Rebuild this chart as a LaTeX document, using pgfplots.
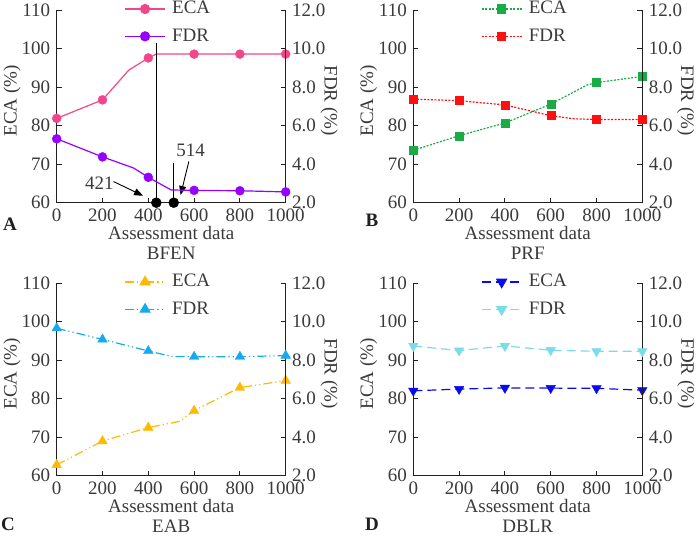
\documentclass[border=0pt]{standalone}
\usepackage{fontspec}
\setmainfont{Liberation Serif}
\usepackage{pgfplots}
\pgfplotsset{compat=1.18}
\usetikzlibrary{arrows.meta}
\definecolor{txt}{HTML}{3A3A3A}
\definecolor{axc}{HTML}{202020}
\definecolor{pinkc}{HTML}{F2468C}
\definecolor{purpc}{HTML}{9600FF}
\definecolor{greenc}{HTML}{1AAA46}
\definecolor{redc}{HTML}{FF1010}
\definecolor{amberc}{HTML}{FFB900}
\definecolor{skyc}{HTML}{14AAF0}
\definecolor{bluec}{HTML}{0A0AF0}
\definecolor{cyanc}{HTML}{78DCEB}
\pgfplotsset{
  legend image code/.code={\draw[mark repeat=2,mark phase=2,#1] plot coordinates {(0bp,0bp) (20bp,0bp) (40bp,0bp)};},
  base/.style={scale only axis, width=229bp, height=192.5bp, xmin=0, xmax=1000,
    tick align=inside, major tick length=5bp,
    axis line style={-, draw=axc, line width=0.9bp},
    every tick/.style={draw=axc, line width=0.9bp},
    tick label style={text=txt, /pgf/number format/assume math mode=true, /pgf/number format/1000 sep={}},
    label style={text=txt}, clip=false},
  leftax/.style={base, ymin=60, ymax=110, ytick={60,70,...,110}, xtick={0,200,...,1000},
    axis x line*=bottom, axis y line*=left, ylabel={ECA (\%)},
    ylabel style={at={(axis description cs:-0.195,0.53)}, anchor=center, rotate=0},
    xlabel style={align=center, inner ysep=0.5bp, yshift=3bp}},
  rightax/.style={base, ymin=2, ymax=12, ytick={2,4,...,12}, xtick=\empty,
    axis y line*=right, axis x line=none,
    yticklabel style={/pgf/number format/.cd, fixed, fixed zerofill, precision=1},
    ylabel={FDR (\%)}, ylabel style={at={(axis description cs:1.19,0.53)}, anchor=center, rotate=180},
    legend style={draw=none, fill=none, at={(axis description cs:0.282,1.068)},
      anchor=north west, text=txt, row sep=8bp, nodes={inner xsep=6.5bp}},
    legend cell align=left},
  sA/.style={line width=1.2bp},
  kA/.style={mark=*, mark size=4.5bp},
  sB/.style={line width=1.2bp, dash pattern=on 2bp off 1.5bp},
  kB/.style={mark=square*, mark size=4bp, mark options={solid}},
  sC/.style={line width=1.2bp, dash pattern=on 9bp off 3bp on 1.2bp off 3bp on 1.2bp off 3bp},
  kC/.style={mark=triangle*, mark size=5.5bp, mark options={solid}},
  sD/.style={line width=1.2bp, dash pattern=on 9bp off 5bp},
  kD/.style={mark=triangle*, mark size=5.5bp, mark options={solid, rotate=180}},
}
\begin{document}
\fontsize{19bp}{21bp}\selectfont
\begin{tikzpicture}
\path[use as bounding box] (0,0) rectangle (700bp,537bp);
% ---------------- A
\begin{axis}[leftax, at={(56.7bp,334.3bp)}, anchor=south west, xlabel={Assessment data\\[-1bp]BFEN}]
\addplot[pinkc, sA, no marks] coordinates {(0,81.9) (200,86.7) (314,94.4) (400,97.6) (435,98.6) (600,98.6) (800,98.6) (1000,98.6)};
\addplot[pinkc, kA, only marks] coordinates {(0,81.9) (200,86.7) (400,97.6) (600,98.6) (800,98.6) (1000,98.6)};
\addplot[black, line width=0.9bp] coordinates {(435,60) (435,101.6)};
\addplot[black, line width=0.9bp] coordinates {(511,60) (511,70.2)};
\addplot[black, only marks, mark=*, mark size=5bp] coordinates {(435,60) (511,60)};
\addplot[black, line width=0.9bp, -{Triangle[length=9bp,width=7bp]}] coordinates {(248,65.5) (377,61.8)};
\addplot[black, line width=0.9bp, -{Triangle[length=9bp,width=7bp]}] coordinates {(577,70.7) (541,62.0)};
\node[text=txt] at (axis cs:186,65.0) {421};
\node[text=txt] at (axis cs:585,73.7) {514};
\end{axis}
\begin{axis}[rightax, at={(56.7bp,334.3bp)}, anchor=south west]
\addlegendimage{pinkc, sA, kA}\addlegendentry{ECA}
\addlegendimage{purpc, sA, kA}\addlegendentry{FDR}
\addplot[purpc, sA, no marks] coordinates {(0,5.32) (200,4.38) (336,3.80) (400,3.32) (500,2.66) (600,2.64) (800,2.62) (1000,2.56)};
\addplot[purpc, kA, only marks] coordinates {(0,5.32) (200,4.38) (400,3.32) (600,2.64) (800,2.62) (1000,2.56)};
\end{axis}
% ---------------- B
\begin{axis}[leftax, at={(413.3bp,334.3bp)}, anchor=south west, xlabel={Assessment data\\[-1bp]PRF}]
\addplot[greenc, sB, no marks] coordinates {(0,73.6) (200,77.4) (400,80.7) (600,85.6) (760,90.6) (800,91.2) (1000,92.8)};
\addplot[greenc, kB, only marks] coordinates {(0,73.6) (200,77.4) (400,80.7) (600,85.6) (800,91.2) (1000,92.8)};
\end{axis}
\begin{axis}[rightax, at={(413.3bp,334.3bp)}, anchor=south west]
\addlegendimage{greenc, sB, kB}\addlegendentry{ECA}
\addlegendimage{redc, sB, kB}\addlegendentry{FDR}
\addplot[redc, sB, no marks] coordinates {(0,7.38) (200,7.30) (400,7.08) (600,6.52) (700,6.36) (800,6.32) (1000,6.32)};
\addplot[redc, kB, only marks] coordinates {(0,7.38) (200,7.30) (400,7.08) (600,6.52) (800,6.32) (1000,6.32)};
\end{axis}
% ---------------- C
\begin{axis}[leftax, at={(56.7bp,61.3bp)}, anchor=south west, xlabel={Assessment data\\[-1bp]EAB}]
\addplot[amberc, sC, no marks] coordinates {(0,62.8) (200,69.0) (400,72.5) (536,74.1) (600,76.9) (800,82.9) (1000,84.7)};
\addplot[amberc, kC, only marks] coordinates {(0,62.8) (200,69.0) (400,72.5) (600,76.9) (800,82.9) (1000,84.7)};
\end{axis}
\begin{axis}[rightax, at={(56.7bp,61.3bp)}, anchor=south west]
\addlegendimage{amberc, sC, kC}\addlegendentry{ECA}
\addlegendimage{skyc, sC, kC}\addlegendentry{FDR}
\addplot[skyc, sC, no marks] coordinates {(0,9.66) (200,9.08) (400,8.48) (500,8.20) (600,8.18) (800,8.18) (1000,8.24)};
\addplot[skyc, kC, only marks] coordinates {(0,9.66) (200,9.08) (400,8.48) (600,8.18) (800,8.18) (1000,8.24)};
\end{axis}
% ---------------- D
\begin{axis}[leftax, at={(413.3bp,61.3bp)}, anchor=south west, xlabel={Assessment data\\[-1bp]DBLR}]
\addplot[bluec, sD, no marks] coordinates {(0,82.05) (200,82.5) (400,82.8) (600,82.75) (800,82.7) (1000,82.2)};
\addplot[bluec, kD, only marks] coordinates {(0,82.05) (200,82.5) (400,82.8) (600,82.75) (800,82.7) (1000,82.2)};
\end{axis}
\begin{axis}[rightax, at={(413.3bp,61.3bp)}, anchor=south west]
\addlegendimage{bluec, sD, kD}\addlegendentry{ECA}
\addlegendimage{cyanc, sD, kD}\addlegendentry{FDR}
\addplot[cyanc, sD, no marks] coordinates {(0,8.74) (200,8.50) (400,8.74) (600,8.52) (800,8.46) (1000,8.46)};
\addplot[cyanc, kD, only marks] coordinates {(0,8.74) (200,8.50) (400,8.74) (600,8.52) (800,8.46) (1000,8.46)};
\end{axis}
\node[font=\bfseries, text=axc] at (10bp,313bp) {A};
\node[font=\bfseries, text=axc] at (372bp,317bp) {B};
\node[font=\bfseries, text=axc] at (8bp,13bp) {C};
\node[font=\bfseries, text=axc] at (372bp,13bp) {D};
\end{tikzpicture}
\end{document}
